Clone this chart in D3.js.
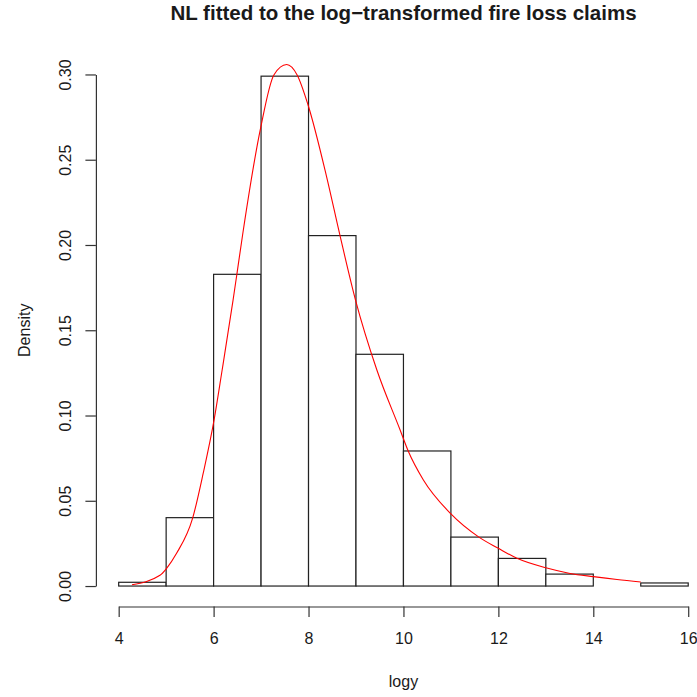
<!DOCTYPE html>
<html>
<head>
<meta charset="utf-8">
<script src="https://cdn.jsdelivr.net/npm/d3@7"></script>
<style>
  body { margin: 0; background: #fff; }
  text { font-family: "Liberation Sans", Arial, sans-serif; fill: #1a1a1a; }
</style>
</head>
<body>
<div id="chart"></div>
<script>
// histogram bins (log claim size) and densities
const binStarts = [4, 5, 6, 7, 8, 9, 10, 11, 12, 13, 14, 15];
const densities = [0.0022, 0.0401, 0.1828, 0.2990, 0.2055, 0.1359, 0.0792, 0.0287, 0.0162, 0.0070, 0, 0.0018];

// fitted NL density
const curveX = [4.28, 4.87, 5.01, 5.22, 5.56, 5.78, 6.01, 6.18, 6.41, 6.49, 6.62, 6.99, 7.27, 7.54, 7.76, 7.99,
    8.38, 8.66, 8.99, 9.44, 9.93, 10.10, 10.42, 10.99, 11.59, 12.0, 12.38, 13.0, 13.51, 14.0, 14.5, 15.0];
const curveY = [0.0008, 0.0063, 0.0104, 0.0192, 0.0400, 0.0660, 0.0974, 0.1267, 0.1677, 0.1828, 0.2076, 0.2685,
    0.2997, 0.3058, 0.2997, 0.2821, 0.2401, 0.2059, 0.1677, 0.1267, 0.0915, 0.0792, 0.0622, 0.0426, 0.0287,
    0.0221, 0.0164, 0.0107, 0.0074, 0.0055, 0.0038, 0.0024];

const xTicks = [4, 6, 8, 10, 12, 14, 16];
const yTicks = [0, 0.05, 0.10, 0.15, 0.20, 0.25, 0.30];

const svg = d3.select("#chart")
    .append("svg")
    .attr("width", 697)
    .attr("height", 697);

// plot region (R style, 4% padding on each side)
const x = d3.scaleLinear().domain([3.52, 16.48]).range([95.9, 711]);
const y = d3.scaleLinear().domain([-0.012, 0.312]).range([606.5, 54.0]);

// bars
svg.append("g")
    .selectAll("rect")
    .data(binStarts)
    .join("rect")
    .attr("x", d => x(d))
    .attr("y", (d, i) => y(densities[i]))
    .attr("width", d => x(d + 1) - x(d))
    .attr("height", (d, i) => y(0) - y(densities[i]))
    .attr("fill", "white")
    .attr("stroke", "#222")
    .attr("stroke-width", 1.2);

// fitted curve
const line = d3.line()
    .x(d => x(d[0]))
    .y(d => y(d[1]))
    .curve(d3.curveMonotoneX);

svg.append("path")
    .datum(curveX.map((v, i) => [v, curveY[i]]))
    .attr("d", line)
    .attr("fill", "none")
    .attr("stroke", "#ff0000")
    .attr("stroke-width", 1.1);

// x axis (line only spans the ticks, like R)
const xAxisScale = d3.scaleLinear().domain([4, 16]).range([x(4), x(16)]);
const xAxis = svg.append("g")
    .attr("transform", "translate(0," + y(-0.012) + ")")
    .call(d3.axisBottom(xAxisScale).tickValues(xTicks).tickSizeInner(10.5).tickSizeOuter(0).tickPadding(16).tickFormat(d3.format("d")));

// y axis
const yAxisScale = d3.scaleLinear().domain([0, 0.30]).range([y(0), y(0.30)]);
const yAxis = svg.append("g")
    .attr("transform", "translate(" + x(3.52) + ",0)")
    .call(d3.axisLeft(yAxisScale).tickValues(yTicks).tickSizeInner(10.5).tickSizeOuter(0).tickFormat(d3.format(".2f")));

[xAxis, yAxis].forEach(g => {
    g.select(".domain").attr("stroke", "#333").attr("stroke-width", 1.2);
    g.selectAll(".tick line").attr("stroke", "#333").attr("stroke-width", 1.2);
    g.selectAll(".tick text").style("font-size", "16px").attr("fill", "#1a1a1a");
});

// rotated y tick labels
yAxis.selectAll(".tick text")
    .attr("x", null)
    .attr("dy", null)
    .attr("text-anchor", "middle")
    .attr("transform", "translate(-25,0) rotate(-90)");

// titles
svg.append("text")
    .attr("x", 403.5)
    .attr("y", 20)
    .attr("text-anchor", "middle")
    .style("font-size", "20.5px")
    .style("font-weight", "bold")
    .text("NL fitted to the log\u2212transformed fire loss claims");

svg.append("text")
    .attr("x", 403.5)
    .attr("y", 687)
    .attr("text-anchor", "middle")
    .style("font-size", "16px")
    .text("logy");

svg.append("text")
    .attr("transform", "translate(30,330.3) rotate(-90)")
    .attr("text-anchor", "middle")
    .style("font-size", "16px")
    .text("Density");
</script>
</body>
</html>
